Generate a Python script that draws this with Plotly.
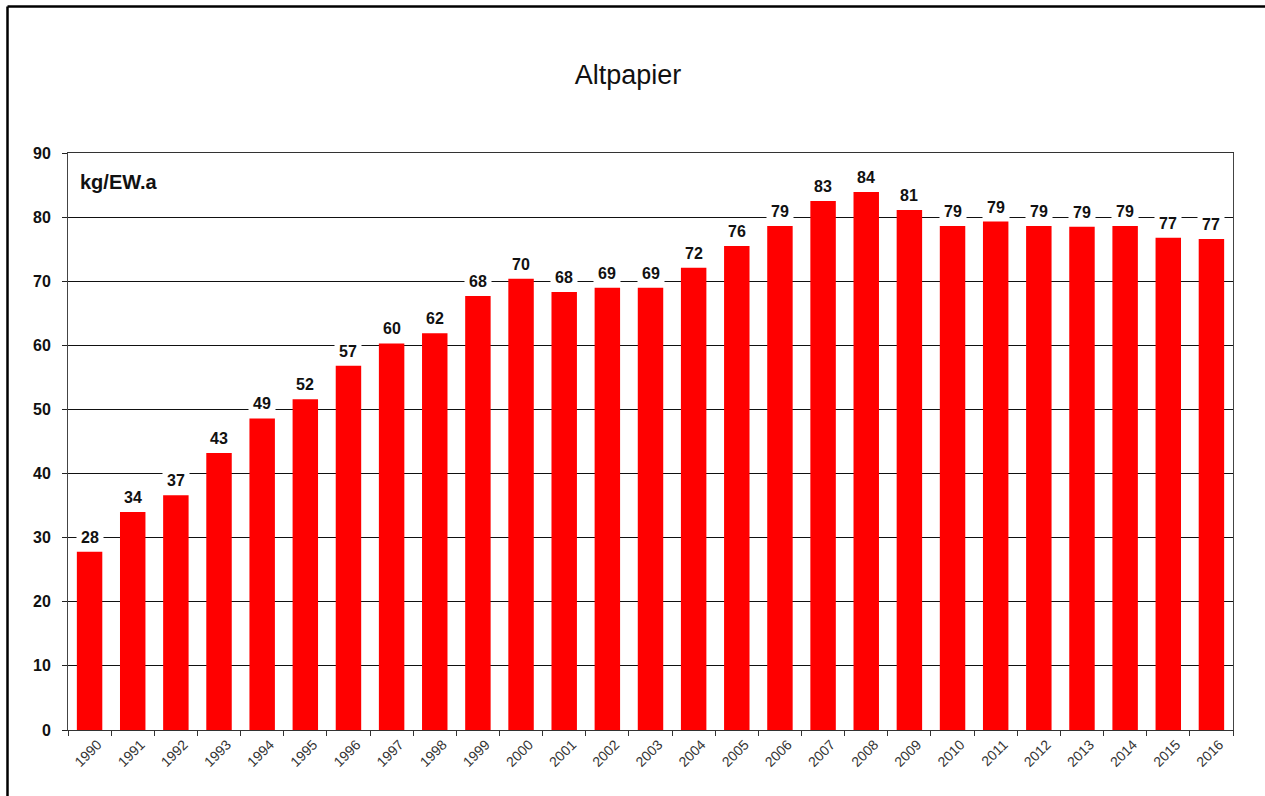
import plotly.graph_objects as go

years = [str(y) for y in range(1990, 2017)]
values = [27.8, 34.0, 36.6, 43.2, 48.6, 51.6, 56.8, 60.3, 61.9, 67.7,
          70.4, 68.3, 69.0, 69.0, 72.1, 75.5, 78.6, 82.5, 83.9, 81.1,
          78.6, 79.3, 78.6, 78.5, 78.6, 76.8, 76.6]
y_ticks = [0, 10, 20, 30, 40, 50, 60, 70, 80, 90]

W, H = 1265, 796
L, R, T, B = 68, 32, 153, 66
pw, ph = W - L - R, H - T - B
FONT = "Arial, Liberation Sans"

fig = go.Figure()
fig.add_trace(go.Bar(x=years, y=values, marker=dict(color="#ff0000", line=dict(width=0)),
                     hoverinfo="x+y"))

annotations = []
for i, v in enumerate(values):
    annotations.append(dict(x=i, y=v, xref="x", yref="y", text=f"<b>{int(v + 0.5)}</b>",
                            showarrow=False, yanchor="bottom", yshift=1,
                            bgcolor="white", borderpad=4,
                            font=dict(family=FONT, size=16, color="#111")))
annotations.append(dict(x=(78 - L) / pw, y=(730 - 182) / ph, xref="paper", yref="paper",
                        text="<b>kg/EW.a</b>", showarrow=False, xanchor="left", yanchor="middle",
                        font=dict(family=FONT, size=20, color="#111")))

def px(xp):
    return (xp - L) / pw

def py(yp):
    return (H - B - yp) / ph

shapes = [
    dict(type="line", xref="paper", yref="paper", x0=px(7.5), x1=px(W + 5), y0=py(6.5), y1=py(6.5),
         line=dict(color="black", width=2.5)),
    dict(type="line", xref="paper", yref="paper", x0=px(7.5), x1=px(7.5), y0=py(6.5), y1=py(H + 5),
         line=dict(color="black", width=2.5)),
]

fig.update_layout(
    width=W, height=H, autosize=False,
    margin=dict(l=L, r=R, t=T, b=B),
    paper_bgcolor="white", plot_bgcolor="white",
    title=dict(text="Altpapier", x=628 / W, xanchor="center", y=1 - 75 / H, yanchor="middle",
               font=dict(family=FONT, size=27, color="#111")),
    bargap=0.41,
    showlegend=False,
    annotations=annotations,
    shapes=shapes,
    font=dict(family=FONT),
)
fig.update_xaxes(type="category", range=[-0.5, len(years) - 0.5], tickangle=-45,
                 tickson="boundaries", ticks="outside", ticklen=5,
                 tickcolor="#333", showline=True, linecolor="#333", linewidth=1, mirror=True,
                 showgrid=False, ticklabelshift=8,
                 tickfont=dict(family=FONT, size=14, color="#333"))
fig.update_yaxes(range=[0, 90], tickvals=y_ticks, ticks="outside", ticklen=5, tickcolor="#222",
                 showline=True, linecolor="#444", linewidth=1, mirror=True,
                 showgrid=True, gridcolor="#111", gridwidth=1, zeroline=False,
                 tickfont=dict(family=FONT, size=16, color="#111", weight="bold"),
                 ticklabelstandoff=8)

fig.write_html("out.html")
